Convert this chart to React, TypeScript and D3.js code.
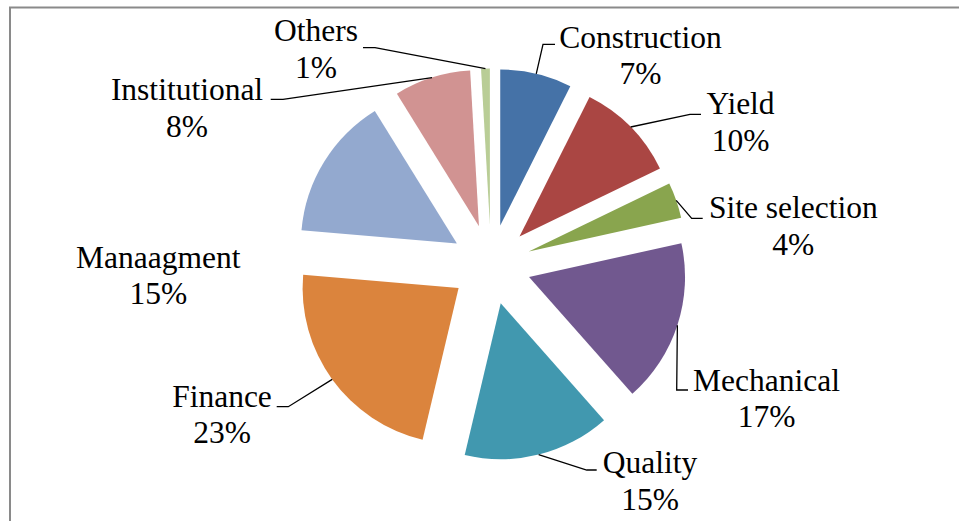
import React from "react";
import * as d3 from "d3";

const categories = ["Construction", "Yield", "Site selection", "Mechanical", "Quality", "Finance", "Manaagment", "Institutional", "Others"];
const values = [7.4, 10.4, 3.7, 16.9, 15.2, 22.6, 14.8, 7.9, 0.9];
const colors = ["#4572A7", "#AA4643", "#89A54E", "#71588F", "#4198AF", "#DB843D", "#93A9CF", "#D19392", "#B9CD96"];

// label layout (center x, first baseline y)
const labelX = [640.5, 740.5, 793.3, 766.5, 650, 222, 158.3, 187, 316];
const labelY = [47.5, 114.3, 218.3, 390.5, 473, 406.7, 267.7, 100, 41];
// leader elbows: [elbowX, elbowY, endX]
const elbows: ([number, number, number] | null)[] = [
  [543, 44.3, 555],
  [690, 114.3, 701],
  [691.7, 218.3, 702.7],
  [676.7, 390, 688],
  [586.7, 470, 596.7],
  [288.3, 406.7, 276.7],
  null,
  [283, 99.3, 270.7],
  [375, 47.7, 363],
];

const W = 959;
const H = 521;
const CX = 491;
const CY = 264.5;
const R = 156;
const EXPLODE = 40;
const FONT = 31.5;
const LINE = 36.5;

export default function App() {
  const total = d3.sum(values);
  const pie = d3.pie<number>().sort(null).value((v) => v).startAngle(0).endAngle(2 * Math.PI);
  const arcs = pie(values);
  const arcGen = d3.arc<d3.PieArcDatum<number>>().innerRadius(0).outerRadius(R);
  const fmt = (v: number) => `${Math.round((v / total) * 100)}%`;

  return (
    <div style={{ position: "fixed", left: 0, top: 0, width: W, height: H, background: "#fff" }}>
      <svg width={W} height={H} style={{ display: "block" }}>
        <rect x={0} y={0} width={W} height={H} fill="#fff" />
        <rect x={10} y={7.5} width={W + 20} height={H + 20} fill="none" stroke="#8a8a8a" strokeWidth={2} />
        <g transform={`translate(${CX},${CY})`}>
          {arcs.map((a, i) => {
            const mid = (a.startAngle + a.endAngle) / 2;
            const ox = Math.sin(mid) * EXPLODE;
            const oy = -Math.cos(mid) * EXPLODE;
            return (
              <path key={i} d={arcGen(a) || ""} fill={colors[i]} transform={`translate(${ox},${oy})`} />
            );
          })}
        </g>
        {arcs.map((a, i) => {
          const e = elbows[i];
          if (!e) return null;
          const mid = (a.startAngle + a.endAngle) / 2;
          const px = CX + Math.sin(mid) * (EXPLODE + R);
          const py = CY - Math.cos(mid) * (EXPLODE + R);
          return (
            <polyline
              key={"l" + i}
              points={`${px},${py} ${e[0]},${e[1]} ${e[2]},${e[1]}`}
              fill="none"
              stroke="#000"
              strokeWidth={1.3}
            />
          );
        })}
        {categories.map((c, i) => (
          <text
            key={"t" + i}
            x={labelX[i]}
            y={labelY[i]}
            textAnchor="middle"
            fontFamily="Liberation Serif"
            fontSize={FONT}
            fill="#000"
          >
            <tspan x={labelX[i]} y={labelY[i]}>{c}</tspan>
            <tspan x={labelX[i]} y={labelY[i] + LINE}>{fmt(values[i])}</tspan>
          </text>
        ))}
      </svg>
    </div>
  );
}
